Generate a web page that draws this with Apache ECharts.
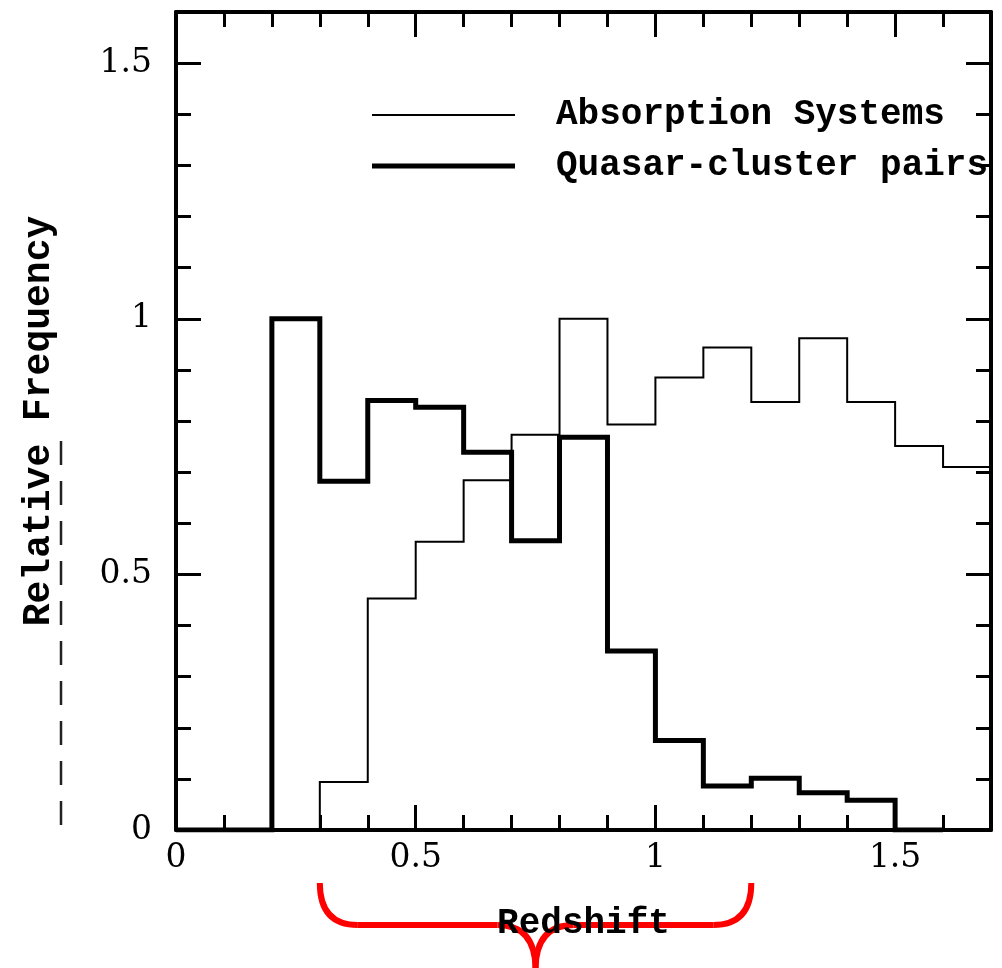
<!DOCTYPE html>
<html>
<head>
<meta charset="utf-8">
<script src="https://cdn.jsdelivr.net/npm/echarts@6/dist/echarts.min.js"></script>
<style>
  html, body { margin: 0; padding: 0; background: #fff; }
  #main { width: 1002px; height: 968px; }
</style>
</head>
<body>
<div id="main"></div>
<script>
// left edges of the redshift bins (width 0.1)
var binWidth = 0.1;
var binEdges = [0, 0.1, 0.2, 0.3, 0.4, 0.5, 0.6, 0.7, 0.8, 0.9, 1.0, 1.1, 1.2, 1.3, 1.4, 1.5, 1.6];
// relative frequency per bin
var absorptionFreq = [0, 0, 0, 0.094, 0.453, 0.564, 0.684, 0.773, 1.0, 0.793, 0.885, 0.944, 0.837, 0.962, 0.837, 0.751, 0.710];
var pairFreq = [0, 0, 1.0, 0.682, 0.840, 0.827, 0.739, 0.566, 0.768, 0.350, 0.175, 0.086, 0.101, 0.073, 0.058, 0];
var seriesNames = ["Absorption Systems", "Quasar-cluster pairs"];
var lineWidths = [2, 5];

var monoFont = "Liberation Mono";
var tickFont = "DejaVu Serif";

// histogram outline: one point per left edge plus the closing right edge
function steps(values){
    var pts = [];
    for (var i = 0; i < values.length; i++) {
        pts.push([binEdges[i], values[i]]);
    }
    var last = values.length - 1;
    pts.push([+(binEdges[last] + binWidth).toFixed(2), values[last]]);
    return pts;
}

function makeAxis(type, pos, max, showLabel){
    return {
        type: "value",
        position: pos,
        min: 0,
        max: max,
        interval: 0.5,
        axisLine: { show: true, onZero: false, lineStyle: { color: "#000", width: 4 } },
        axisTick: { show: true, inside: true, length: 25, lineStyle: { color: "#000", width: 3 } },
        minorTick: { show: true, splitNumber: 5, length: 15, lineStyle: { color: "#000", width: 3 } },
        splitLine: { show: false },
        axisLabel: {
            show: showLabel,
            showMaxLabel: false,
            color: "#000",
            fontFamily: tickFont,
            fontSize: 33,
            margin: type == "x" ? 12 : 24
        }
    };
}

var chart = echarts.init(document.getElementById("main"));

var xBottom = makeAxis("x", "bottom", 1.7, true);
xBottom.name = "Redshift";
xBottom.nameLocation = "middle";
xBottom.nameGap = 76;
xBottom.nameTextStyle = { color: "#000", fontFamily: monoFont, fontWeight: "bold", fontSize: 36 };

var yLeft = makeAxis("y", "left", 1.6, true);
yLeft.name = "Relative Frequency";
yLeft.nameLocation = "middle";
yLeft.nameGap = 118;
yLeft.nameTextStyle = { color: "#000", fontFamily: monoFont, fontWeight: "bold", fontSize: 38 };

// plain bar icons for the legend, thin and thick like the series
var legendData = seriesNames.map(function(name, i){
    return { name: name, icon: "path://M0,0H143V" + lineWidths[i] + "H0Z" };
});

var option = {
    animation: false,
    backgroundColor: "#fff",
    grid: { left: 176, right: 11, top: 12, bottom: 138 },
    xAxis: [xBottom, makeAxis("x", "top", 1.7, false)],
    yAxis: [yLeft, makeAxis("y", "right", 1.6, false)],
    legend: {
        orient: "vertical",
        left: 367,
        top: 92,
        itemWidth: 143,
        itemHeight: 12,
        itemGap: 15,
        selectedMode: false,
        data: legendData,
        textStyle: {
            color: "#000",
            fontFamily: monoFont,
            fontWeight: "bold",
            fontSize: 36,
            lineHeight: 36,
            padding: [0, 0, 0, 36]
        }
    },
    series: [
        {
            name: seriesNames[0],
            type: "line",
            step: "end",
            symbol: "none",
            xAxisIndex: 0,
            yAxisIndex: 0,
            data: steps(absorptionFreq),
            lineStyle: { color: "#000", width: lineWidths[0], cap: "butt", join: "miter" },
            itemStyle: { color: "#000" },
            z: 3
        },
        {
            name: seriesNames[1],
            type: "line",
            step: "end",
            symbol: "none",
            xAxisIndex: 0,
            yAxisIndex: 0,
            data: steps(pairFreq),
            lineStyle: { color: "#000", width: lineWidths[1], cap: "butt", join: "miter" },
            itemStyle: { color: "#000" },
            z: 4
        }
    ]
};
chart.setOption(option);

// red brace under the axis spanning z = 0.3 .. 1.2, plus the dashed rule left of the y label
var bx0 = chart.convertToPixel({ xAxisIndex: 0 }, 0.3);
var bx1 = chart.convertToPixel({ xAxisIndex: 0 }, 1.2);
var base = chart.convertToPixel({ yAxisIndex: 0 }, 0);
var yTop = chart.convertToPixel({ yAxisIndex: 0 }, 0.8);
var mid = (bx0 + bx1) / 2;
var yEnd = base + 53, yBar = base + 95, yTip = base + 140, r = 38;
var red = { stroke: "#ff0000", lineWidth: 6, fill: null };

chart.setOption({
    graphic: [
        { type: "bezierCurve", shape: { x1: bx0, y1: yEnd, cpx1: bx0, cpy1: yBar, x2: bx0 + r, y2: yBar }, style: red },
        { type: "line", shape: { x1: bx0 + r, y1: yBar, x2: mid - r, y2: yBar }, style: red },
        { type: "bezierCurve", shape: { x1: mid - r, y1: yBar, cpx1: mid, cpy1: yBar, x2: mid, y2: yTip }, style: red },
        { type: "bezierCurve", shape: { x1: mid, y1: yTip, cpx1: mid, cpy1: yBar, x2: mid + r, y2: yBar }, style: red },
        { type: "line", shape: { x1: mid + r, y1: yBar, x2: bx1 - r, y2: yBar }, style: red },
        { type: "bezierCurve", shape: { x1: bx1 - r, y1: yBar, cpx1: bx1, cpy1: yBar, x2: bx1, y2: yEnd }, style: red },
        {
            type: "line",
            shape: { x1: 61, y1: yTop + 20, x2: 61, y2: base },
            style: { stroke: "#222", lineWidth: 2.5, lineDash: [24, 16] }
        }
    ]
});
</script>
</body>
</html>
